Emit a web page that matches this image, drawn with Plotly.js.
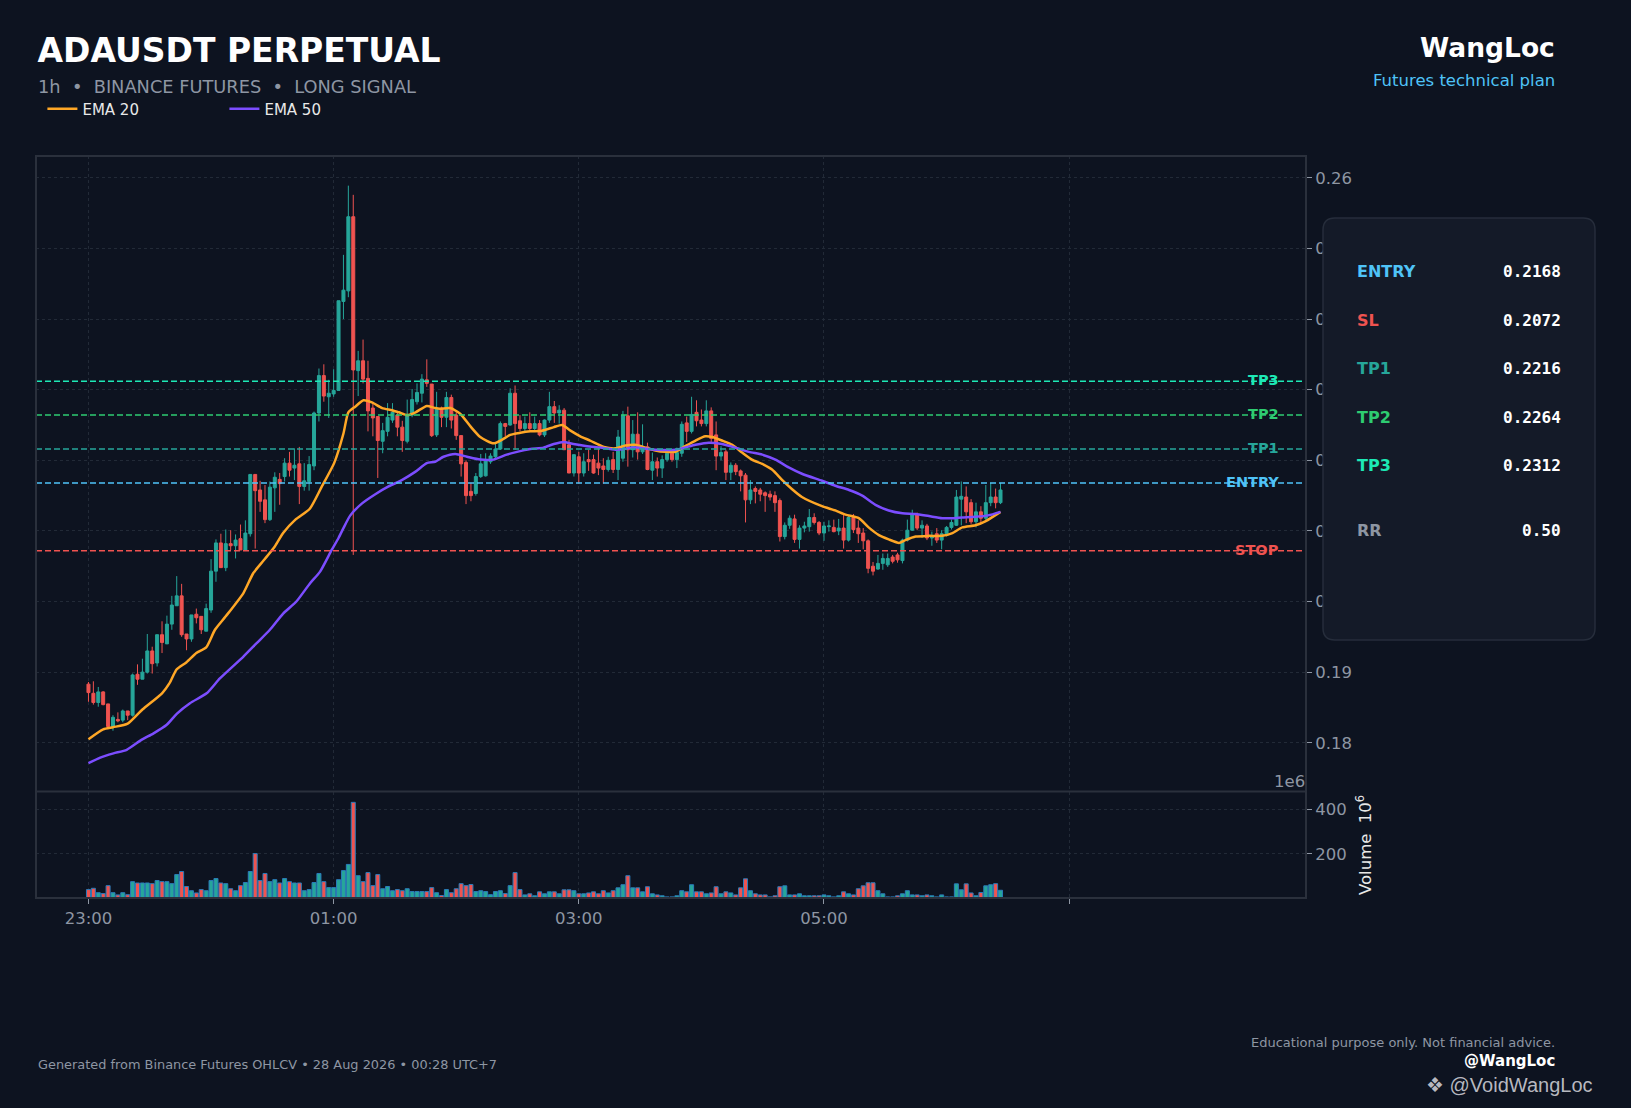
<!DOCTYPE html>
<html><head><meta charset="utf-8">
<script src="https://cdn.plot.ly/plotly-3.0.1.min.js"></script>
<style>html,body{margin:0;padding:0;background:#0d1320;}#chart{width:1631px;height:1108px;}</style>
</head><body><div id="chart"></div>
<script>
// ---- data ----
const openP = [0.1883,0.1870,0.1857,0.1872,0.1855,0.1823,0.1833,0.1832,0.1845,0.1839,
0.1897,0.1890,0.1900,0.1930,0.1913,0.1953,0.1940,0.1968,0.1994,0.2008,
0.1954,0.1947,0.1982,0.1979,0.1958,0.1988,0.2043,0.2083,0.2048,0.2082,
0.2079,0.2089,0.2073,0.2096,0.2180,0.2158,0.2144,0.2116,0.2161,0.2173,
0.2177,0.2196,0.2189,0.2195,0.2163,0.2170,0.2192,0.2267,0.2320,0.2290,
0.2294,0.2299,0.2425,0.2440,0.2545,0.2327,0.2341,0.2316,0.2274,0.2262,
0.2227,0.2241,0.2257,0.2264,0.2247,0.2227,0.2264,0.2283,0.2295,0.2314,
0.2308,0.2236,0.2274,0.2261,0.2289,0.2264,0.2235,0.2197,0.2156,0.2153,
0.2177,0.2178,0.2198,0.2205,0.2216,0.2252,0.2250,0.2295,0.2256,0.2245,
0.2252,0.2245,0.2252,0.2236,0.2257,0.2276,0.2267,0.2271,0.2222,0.2182,
0.2205,0.2182,0.2201,0.2201,0.2196,0.2192,0.2187,0.2201,0.2187,0.2203,
0.2263,0.2215,0.2237,0.2212,0.2219,0.2186,0.2198,0.2189,0.2201,0.2210,
0.2201,0.2210,0.2253,0.2241,0.2268,0.2257,0.2252,0.2270,0.2236,0.2206,
0.2212,0.2183,0.2193,0.2185,0.2179,0.2144,0.2160,0.2158,0.2154,0.2152,
0.2150,0.2143,0.2092,0.2108,0.2117,0.2088,0.2104,0.2106,0.2119,0.2112,
0.2097,0.2106,0.2105,0.2100,0.2104,0.2087,0.2119,0.2104,0.2097,0.2086,
0.2050,0.2046,0.2054,0.2052,0.2063,0.2066,0.2058,0.2087,0.2101,0.2123,
0.2104,0.2107,0.2090,0.2096,0.2087,0.2096,0.2105,0.2108,0.2145,0.2148,
0.2140,0.2113,0.2127,0.2118,0.2140,0.2148,0.2140];
const highP = [0.1886,0.1887,0.1879,0.1873,0.1855,0.1839,0.1843,0.1847,0.1845,0.1898,
0.1911,0.1919,0.1954,0.1936,0.1953,0.1972,0.1980,0.2008,0.2036,0.2025,
0.1954,0.1981,0.1990,0.1979,0.1997,0.2060,0.2088,0.2096,0.2102,0.2101,
0.2095,0.2109,0.2115,0.2180,0.2180,0.2171,0.2165,0.2170,0.2183,0.2182,
0.2203,0.2212,0.2217,0.2219,0.2196,0.2206,0.2269,0.2330,0.2336,0.2314,
0.2329,0.2426,0.2491,0.2589,0.2576,0.2355,0.2371,0.2341,0.2281,0.2262,
0.2253,0.2281,0.2281,0.2270,0.2256,0.2286,0.2301,0.2309,0.2322,0.2343,
0.2308,0.2297,0.2276,0.2297,0.2293,0.2268,0.2235,0.2200,0.2168,0.2182,
0.2209,0.2210,0.2210,0.2224,0.2255,0.2253,0.2302,0.2306,0.2264,0.2262,
0.2268,0.2262,0.2257,0.2258,0.2297,0.2284,0.2278,0.2274,0.2229,0.2208,
0.2212,0.2210,0.2215,0.2208,0.2217,0.2203,0.2205,0.2212,0.2243,0.2270,
0.2276,0.2257,0.2268,0.2251,0.2225,0.2211,0.2204,0.2207,0.2215,0.2215,
0.2218,0.2255,0.2262,0.2290,0.2285,0.2272,0.2285,0.2275,0.2255,0.2220,
0.2215,0.2197,0.2196,0.2187,0.2182,0.2172,0.2163,0.2161,0.2156,0.2157,
0.2156,0.2146,0.2112,0.2122,0.2123,0.2108,0.2113,0.2131,0.2125,0.2114,
0.2113,0.2115,0.2116,0.2117,0.2123,0.2121,0.2124,0.2115,0.2104,0.2088,
0.2056,0.2066,0.2068,0.2068,0.2066,0.2069,0.2089,0.2116,0.2130,0.2126,
0.2115,0.2110,0.2099,0.2104,0.2101,0.2107,0.2116,0.2158,0.2170,0.2163,
0.2145,0.2140,0.2135,0.2165,0.2168,0.2160,0.2168];
const lowP = [0.1858,0.1854,0.1851,0.1853,0.1822,0.1817,0.1829,0.1829,0.1832,0.1837,
0.1882,0.1890,0.1898,0.1898,0.1908,0.1927,0.1940,0.1960,0.1994,0.1950,
0.1931,0.1943,0.1969,0.1954,0.1958,0.1984,0.2028,0.2048,0.2043,0.2073,
0.2061,0.2073,0.2073,0.2092,0.2075,0.2127,0.2111,0.2114,0.2127,0.2137,
0.2170,0.2177,0.2172,0.2138,0.2157,0.2157,0.2186,0.2255,0.2283,0.2260,
0.2290,0.2299,0.2400,0.2431,0.2066,0.2291,0.2309,0.2241,0.2234,0.2175,
0.2210,0.2234,0.2253,0.2234,0.2212,0.2224,0.2261,0.2279,0.2282,0.2304,
0.2233,0.2233,0.2247,0.2247,0.2245,0.2229,0.2177,0.2138,0.2142,0.2150,
0.2175,0.2177,0.2195,0.2203,0.2215,0.2234,0.2249,0.2215,0.2241,0.2241,
0.2242,0.2241,0.2234,0.2233,0.2253,0.2253,0.2252,0.2215,0.2182,0.2177,
0.2167,0.2177,0.2185,0.2181,0.2179,0.2167,0.2184,0.2182,0.2172,0.2198,
0.2191,0.2204,0.2201,0.2209,0.2186,0.2172,0.2177,0.2175,0.2198,0.2198,
0.2189,0.2205,0.2226,0.2238,0.2248,0.2248,0.2248,0.2226,0.2186,0.2200,
0.2172,0.2172,0.2179,0.2156,0.2112,0.2138,0.2139,0.2142,0.2127,0.2143,
0.2127,0.2085,0.2088,0.2103,0.2083,0.2075,0.2098,0.2099,0.2109,0.2094,
0.2086,0.2099,0.2098,0.2094,0.2075,0.2085,0.2097,0.2083,0.2074,0.2040,
0.2037,0.2045,0.2045,0.2049,0.2054,0.2055,0.2054,0.2085,0.2100,0.2101,
0.2090,0.2087,0.2079,0.2083,0.2074,0.2092,0.2102,0.2107,0.2108,0.2111,
0.2110,0.2105,0.2110,0.2115,0.2135,0.2132,0.2138];
const closeP = [0.1871,0.1857,0.1872,0.1854,0.1823,0.1836,0.1831,0.1845,0.1839,0.1896,
0.1890,0.1900,0.1930,0.1912,0.1953,0.1942,0.1968,0.1995,0.2008,0.1953,
0.1947,0.1981,0.1977,0.1960,0.1990,0.2043,0.2083,0.2048,0.2082,0.2079,
0.2087,0.2073,0.2097,0.2180,0.2157,0.2142,0.2116,0.2162,0.2176,0.2167,
0.2196,0.2186,0.2193,0.2163,0.2171,0.2194,0.2267,0.2320,0.2291,0.2295,
0.2299,0.2426,0.2441,0.2545,0.2328,0.2341,0.2315,0.2270,0.2260,0.2228,
0.2242,0.2261,0.2268,0.2247,0.2228,0.2264,0.2286,0.2296,0.2315,0.2309,
0.2235,0.2274,0.2261,0.2289,0.2257,0.2235,0.2195,0.2150,0.2150,0.2177,
0.2195,0.2201,0.2206,0.2216,0.2252,0.2248,0.2295,0.2252,0.2245,0.2252,
0.2245,0.2252,0.2236,0.2257,0.2276,0.2267,0.2271,0.2215,0.2182,0.2208,
0.2182,0.2198,0.2198,0.2182,0.2189,0.2187,0.2200,0.2187,0.2233,0.2264,
0.2215,0.2237,0.2212,0.2218,0.2187,0.2198,0.2189,0.2201,0.2210,0.2201,
0.2211,0.2251,0.2241,0.2265,0.2256,0.2252,0.2270,0.2231,0.2206,0.2211,
0.2183,0.2193,0.2184,0.2178,0.2144,0.2158,0.2156,0.2152,0.2150,0.2148,
0.2140,0.2092,0.2108,0.2118,0.2088,0.2104,0.2107,0.2119,0.2112,0.2097,
0.2107,0.2107,0.2099,0.2104,0.2087,0.2119,0.2102,0.2096,0.2086,0.2047,
0.2043,0.2054,0.2061,0.2061,0.2057,0.2059,0.2087,0.2101,0.2123,0.2104,
0.2108,0.2090,0.2093,0.2087,0.2096,0.2105,0.2112,0.2148,0.2149,0.2127,
0.2113,0.2127,0.2118,0.2140,0.2148,0.2140,0.2158];
// volume in millions
const volumeM = [38,44,24,20,56,24,14,24,15,74,68,68,68,65,79,74,74,65,106,120,
52,33,23,38,33,79,88,68,65,42,33,56,70,120,201,79,111,74,83,68,
88,74,68,68,33,38,70,111,74,47,47,83,124,152,433,101,74,115,56,106,
42,52,33,38,33,42,29,29,29,29,47,24,11,38,24,42,65,56,61,29,
33,29,15,29,33,20,56,115,38,14,19,10,28,19,28,28,19,37,37,33,
19,19,23,28,19,33,23,33,46,60,101,46,46,28,51,19,14,10,5,5,
10,33,28,60,28,28,19,23,51,19,28,23,14,46,87,33,19,14,14,5,
10,51,55,14,14,19,10,10,10,10,14,10,5,10,28,19,14,42,55,69,
69,33,19,5,5,10,19,33,14,14,10,14,10,5,14,5,5,64,37,64,
23,10,25,55,60,65,35];
// EMA values read at sample positions (candle index, price)
const ema20X = [0,3,5,8,11,15,16.5,18,20,22,24,25.8,28,31.6,33.6,35.7,38,39.7,42.2,45.1,47.6,50.1,52,53,54.4,56.1,57.8,59.9,61.9,63.3,65,66.7,69,70.7,71.7,73.8,75.8,77.9,79.9,82.6,84.3,86,88.1,90.1,92.5,94.9,96.6,98.3,100.3,102.3,105.1,107.5,109.5,111.5,113.6,115.6,117.7,119.7,121.7,123.8,125.8,127.2,129.2,131.3,133.3,135.3,137.4,139.4,141.5,143.5,145.5,149.6,152.3,154.4,157.1,159.1,161.2,163.2,165.3,166.6,168.7,171.4,174.1,176.2,178.2,180.9,183,186];
const ema20Y = [0.1805,0.1819,0.1822,0.1827,0.1847,0.1870,0.1884,0.1904,0.1914,0.1927,0.1935,0.1960,0.1979,0.2012,0.2040,0.2058,0.2078,0.2097,0.2116,0.2131,0.2163,0.2196,0.2238,0.2268,0.2276,0.2285,0.2282,0.2274,0.2271,0.2268,0.2264,0.2268,0.2277,0.2274,0.2273,0.2274,0.2266,0.2248,0.2233,0.2224,0.2229,0.2236,0.2239,0.2241,0.2242,0.2247,0.2250,0.2242,0.2234,0.2228,0.2219,0.2217,0.2221,0.2222,0.2218,0.2214,0.2212,0.2212,0.2220,0.2228,0.2234,0.2233,0.2228,0.2222,0.2211,0.2201,0.2195,0.2187,0.2172,0.2159,0.2148,0.2135,0.2129,0.2123,0.2118,0.2105,0.2094,0.2088,0.2083,0.2087,0.2092,0.2093,0.2093,0.2097,0.2105,0.2108,0.2114,0.2127];
const ema50X = [0,2.4,5.1,7.8,10.8,13.2,15.9,18,20.7,24.1,26.8,31.6,34.3,37,39.7,42.4,45.2,47.2,49.6,51,52,53.4,55.8,58.5,61.2,63.9,66.7,69,70.7,72.4,74.8,77.2,79.9,82.6,85.3,87.4,90.1,92.8,94.9,96.9,98.9,101.7,104.4,107.5,111.5,115.6,119.7,123.8,126.5,129.2,131.9,134.7,137.4,140.1,142.8,145.5,149.6,152.3,155.1,157.8,160.5,163.2,166,168.7,171.4,174.1,176.2,178.2,180.9,183.5,186];
const ema50Y = [0.1771,0.1779,0.1785,0.1790,0.1804,0.1813,0.1825,0.1841,0.1856,0.1870,0.1891,0.1922,0.1941,0.1960,0.1983,0.2000,0.2026,0.2042,0.2073,0.2090,0.2104,0.2122,0.2139,0.2152,0.2163,0.2172,0.2184,0.2196,0.2198,0.2205,0.2209,0.2205,0.2201,0.2201,0.2208,0.2212,0.2216,0.2218,0.2223,0.2226,0.2223,0.2220,0.2218,0.2215,0.2218,0.2215,0.2215,0.2222,0.2225,0.2223,0.2218,0.2212,0.2208,0.2201,0.2190,0.2181,0.2171,0.2164,0.2158,0.2150,0.2137,0.2129,0.2125,0.2124,0.2121,0.2118,0.2118,0.2119,0.2120,0.2122,0.2127];
const levelNames  = ['TP3','TP2','TP1','ENTRY','STOP'];
const levelPrices = [0.2312,0.2264,0.2216,0.2168,0.2072];
const levelColors = ['#1de9b6','#2ecc71','#26a69a','#4fc3f7','#ef5350'];
const panelLabels = ['ENTRY','SL','TP1','TP2','TP3','RR'];
const panelValues = ['0.2168','0.2072','0.2216','0.2264','0.2312','0.50'];
const panelColors = ['#4fc3f7','#ef5350','#26a69a','#2ecc71','#1de9b6','#8e96a3'];
const timeTickVals = [0,50,100,150];
const timeTickText = ['23:00','01:00','03:00','05:00'];
const unlabeledTimeTicks = [200];
const priceTicks = [0.18,0.19,0.20,0.21,0.22,0.23,0.24,0.25,0.26];
const volTicks = [200,400];

// ---- layout helpers (pixel -> paper) ----
const L = 36, T = 156, W = 1270, H = 742;
const px = x => (x - L) / W;
const py = y => (T + H - y) / H;
const UP = '#26a69a', DN = '#ef5350', GRAY = '#8e96a3', BG = '#0d1320';
const FONT = 'DejaVu Sans';

const idx = closeP.map((c, i) => i);
const volColors = closeP.map((c, i) => c >= openP[i] ? UP : DN);

const data = [
  {type:'candlestick', x:idx, open:openP, high:highP, low:lowP, close:closeP,
   xaxis:'x', yaxis:'y', showlegend:false, hoverinfo:'skip', whiskerwidth:0,
   increasing:{line:{color:UP,width:1}, fillcolor:UP},
   decreasing:{line:{color:DN,width:1}, fillcolor:DN}},
  {type:'scatter', mode:'lines', name:'EMA 20', x:ema20X, y:ema20Y, xaxis:'x', yaxis:'y',
   line:{color:'#ffa726', width:2.5, shape:'spline', smoothing:0.6}, hoverinfo:'skip'},
  {type:'scatter', mode:'lines', name:'EMA 50', x:ema50X, y:ema50Y, xaxis:'x', yaxis:'y',
   line:{color:'#7c4dff', width:2.5, shape:'spline', smoothing:0.6}, hoverinfo:'skip'},
  {type:'bar', x:idx, y:volumeM, xaxis:'x', yaxis:'y2', showlegend:false, hoverinfo:'skip',
   marker:{color:volColors, line:{color:'#2b7cba', width:1}}}
];

const shapes = [];
levelPrices.forEach((p, k) => shapes.push({type:'line', xref:'paper', yref:'y', x0:0, x1:1, y0:p, y1:p,
  line:{color:levelColors[k], width:1.5, dash:'6px,3px'}, layer:'above'}));
shapes.push({type:'rect', xref:'paper', yref:'paper', x0:0, x1:1, y0:0, y1:1, line:{color:'#2a303c', width:2}, layer:'above'});
shapes.push({type:'line', xref:'paper', yref:'paper', x0:0, x1:1, y0:0.1435, y1:0.1435, line:{color:'#2a303c', width:2}, layer:'above'});
// info panel with rounded corners
(function(){
  const x0 = px(1323), x1 = px(1595), y0 = py(640), y1 = py(218), rx = 12 / W, ry = 12 / H;
  const path = `M${x0+rx},${y1} L${x1-rx},${y1} Q${x1},${y1} ${x1},${y1-ry} L${x1},${y0+ry} Q${x1},${y0} ${x1-rx},${y0} L${x0+rx},${y0} Q${x0},${y0} ${x0},${y0+ry} L${x0},${y1-ry} Q${x0},${y1} ${x0+rx},${y1} Z`;
  shapes.push({type:'path', xref:'paper', yref:'paper', path:path, fillcolor:'#141a28', line:{color:'#262d3b', width:1.5}, layer:'above'});
})();

const ann = [];
function A(text, x, y, size, color, anchor, extra) {
  ann.push(Object.assign({text:text, xref:'paper', yref:'paper', x:px(x), y:py(y), xanchor:anchor, yanchor:'middle',
    showarrow:false, font:{family:FONT, size:size, color:color}}, extra || {}));
}
A('1h\u00a0\u00a0•\u00a0\u00a0BINANCE FUTURES\u00a0\u00a0•\u00a0\u00a0LONG SIGNAL', 35.5, 86, 17.8, GRAY, 'left');
A('WangLoc', 1557, 47, 26.5, '#ffffff', 'right', {font:{family:FONT, size:26.5, color:'#ffffff', weight:'bold'}});
A('Futures technical plan', 1557, 80, 16.5, '#4fc3f7', 'right');
const panelY = [271, 320, 368, 417, 466, 530];
panelLabels.forEach((t, k) => {
  A(t, 1355, panelY[k], 16, panelColors[k], 'left', {font:{family:FONT, size:16, color:panelColors[k], weight:'bold'}});
  A(panelValues[k], 1563, panelY[k], 16, '#ffffff', 'right', {font:{family:'DejaVu Sans Mono', size:16, color:'#ffffff', weight:'bold'}});
});
levelNames.forEach((t, k) => ann.push({text:t, xref:'paper', yref:'y', x:px(1281), y:levelPrices[k], xanchor:'right', yanchor:'middle', yshift:1,
  showarrow:false, font:{family:FONT, size:14.5, color:levelColors[k], weight:'bold'}}));
A('1e6', 1307, 781, 16.5, GRAY, 'right');
A('Volume\u00a0\u00a010<sup>6</sup>', 1364, 845, 16.5, '#e8e8e8', 'center', {textangle:-90});
A('Generated from Binance Futures OHLCV • 28 Aug 2026 • 00:28 UTC+7', 35.5, 1064, 12.9, GRAY, 'left');
A('Educational purpose only. Not financial advice.', 1557, 1042, 13, GRAY, 'right');
A('@WangLoc', 1557, 1061, 15, '#ffffff', 'right', {font:{family:FONT, size:15, color:'#ffffff', weight:'bold'}});
A('❖ @VoidWangLoc', 1424, 1085, 20, 'rgba(215,215,222,0.85)', 'left', {font:{family:'Liberation Sans', size:20, color:'rgba(215,215,222,0.85)'}});

const axisCommon = {showline:false, zeroline:false, ticks:'outside', ticklen:5, tickwidth:1, tickcolor:GRAY,
  tickfont:{family:FONT, size:16.5, color:GRAY}, gridcolor:'#222a37', griddash:'3px,3px', gridwidth:1};

const layout = {
  width:1631, height:1108, paper_bgcolor:BG, plot_bgcolor:BG,
  margin:{l:L, r:1631 - L - W, t:T, b:1108 - T - H, pad:0},
  font:{family:FONT, color:'#e8e8e8'},
  title:{text:'ADAUSDT PERPETUAL', x:37.5/1631, xanchor:'left', xref:'container', y:1 - 50/1108, yanchor:'middle', yref:'container',
    font:{family:FONT, size:33, color:'#ffffff', weight:'bold'}},
  showlegend:true,
  legend:{orientation:'h', x:px(42.4), y:py(109), xanchor:'left', yanchor:'middle', bgcolor:'rgba(0,0,0,0)',
    font:{family:FONT, size:15, color:'#e8e8e8'}, entrywidth:137, entrywidthmode:'pixels', traceorder:'normal'},
  xaxis: Object.assign({}, axisCommon, {anchor:'y2', range:[-10.7, 248.3], tickvals:timeTickVals, ticktext:timeTickText,
    showgrid:true, rangeslider:{visible:false}, fixedrange:true,
    minor:{tickvals:unlabeledTimeTicks, ticks:'outside', ticklen:5, tickwidth:1, tickcolor:GRAY,
      showgrid:true, gridcolor:'#222a37', griddash:'3px,3px', gridwidth:1}}),
  yaxis: Object.assign({}, axisCommon, {domain:[0.1435, 1], side:'right', anchor:'x', range:[0.17309, 0.2631],
    tickvals:priceTicks, tickformat:'.2f', showgrid:true, fixedrange:true}),
  yaxis2: Object.assign({}, axisCommon, {domain:[0, 0.1435], side:'right', anchor:'x', range:[0, 482],
    tickvals:volTicks, showgrid:true, fixedrange:true}),
  boxgap:0.39, boxgroupgap:0, bargap:0.18,
  shapes:shapes, annotations:ann
};
Plotly.newPlot('chart', data, layout, {displayModeBar:false, staticPlot:true});
</script></body></html>
